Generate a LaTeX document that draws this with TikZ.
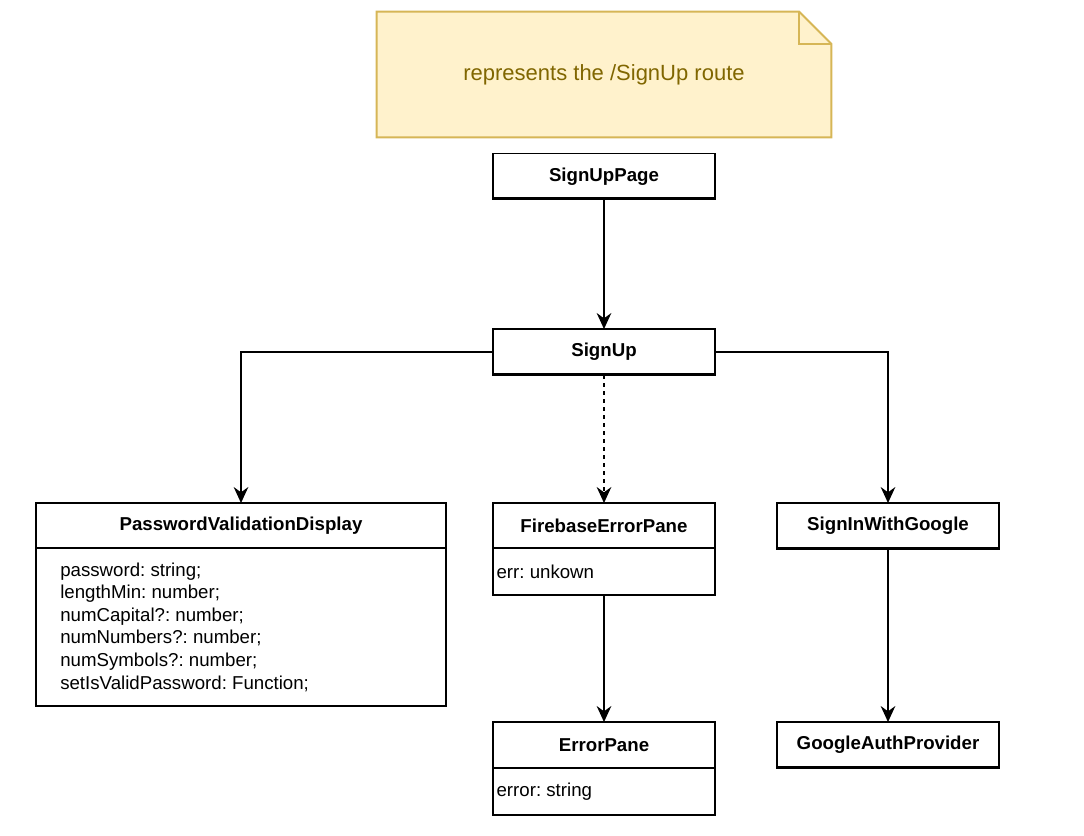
\documentclass[tikz,border=0pt]{standalone}
\usepackage{fontspec}
\setmainfont{Liberation Sans}
\usetikzlibrary{arrows.meta}
\frenchspacing
\definecolor{notefill}{RGB}{255,242,204}
\definecolor{notedraw}{RGB}{214,182,86}
\definecolor{notetext}{RGB}{128,102,0}
\tikzset{
  comp/.style={draw, line width=0.9pt, outer sep=0pt, inner sep=0pt,
    minimum width=166.5pt, minimum height=34.5pt,
    font=\fontsize{14}{17}\selectfont\bfseries},
  body/.style={draw, line width=0.9pt, outer sep=0pt, inner sep=0pt,
    minimum width=166.5pt, minimum height=35.25pt},
  attrs/.style={anchor=west, inner sep=0pt, align=left,
    font=\fontsize{14}{16.95}\selectfont},
  arr/.style={line width=0.9pt, -{Stealth[length=12pt, width=11pt, inset=4pt]}},
}
\begin{document}
\begin{tikzpicture}[x=0.75pt, y=-0.75pt]
\useasboundingbox (0,0) rectangle (1084,835);
% note
\node[minimum width=340.5pt, minimum height=93.75pt, inner sep=0pt] (note) at (604,74.5){};
\filldraw[fill=notefill, draw=notedraw, line width=1.5pt] (note.north west) -- ([xshift=-24pt]note.north east) -- ([yshift=-24pt]note.north east) -- (note.south east) -- (note.south west) -- cycle;
\draw[notedraw, line width=1.5pt] ([xshift=-24pt]note.north east) -- ([xshift=-24pt, yshift=-24pt]note.north east) -- ([yshift=-24pt]note.north east);
\node[text=notetext, font=\fontsize{16.5}{20}\selectfont] at (note.center) {represents the /SignUp route};
% components
\node[comp] (signuppage) at (604,176.5){SignUpPage};
\node[comp] (signup) at (604,352){SignUp};
\node[comp, minimum width=307.5pt, minimum height=33.75pt] (pvd) at (241,525.5){PasswordValidationDisplay};
\node[body, minimum width=307.5pt, minimum height=118.5pt] (pvdbody) at (241,627){};
\node[attrs] (pvdattrs) at ([xshift=18pt]pvdbody.west){password: string;\\ lengthMin: number;\\ numCapital?: number;\\ numNumbers?: number;\\ numSymbols?: number;\\ setIsValidPassword: Function;};
\node[comp, minimum height=33.75pt] (fep) at (604,525.5){FirebaseErrorPane};
\node[body] (fepbody) at (604,571.5){};
\node[attrs] (fepattrs) at ([xshift=2.5pt]fepbody.west){err: unkown};
\node[comp] (siwg) at (888,526){SignInWithGoogle};
\node[comp] (errorpane) at (604,745){ErrorPane};
\node[body] (errorbody) at (604,791.5){};
\node[attrs] (errorattrs) at ([xshift=2.5pt]errorbody.west){error: string};
\node[comp] (gap) at (888,745){GoogleAuthProvider};
% heavier bottom edges
\foreach \n in {signuppage, signup, siwg, gap}
  \draw[line width=2pt] ([yshift=0.6pt]\n.south west) -- ([yshift=0.6pt]\n.south east);
% connectors
\draw[arr] (signuppage) -- (signup);
\draw[arr] (signup.west) -| (pvd.north);
\draw[arr] (signup.east) -| (siwg.north);
\draw[arr, dash pattern=on 3pt off 3pt] (signup) -- (fep);
\draw[arr] (fepbody) -- (errorpane);
\draw[arr] (siwg) -- (gap);
\end{tikzpicture}
\end{document}
